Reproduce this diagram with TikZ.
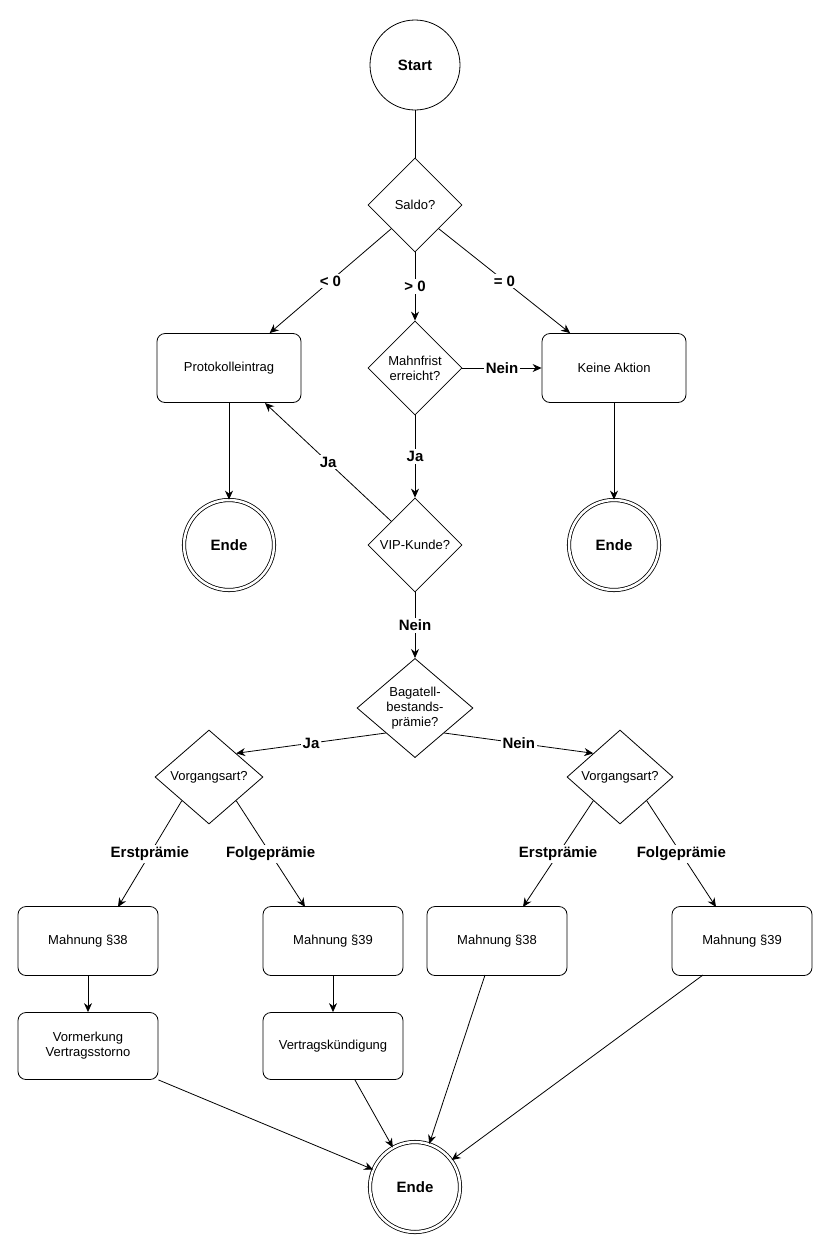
\documentclass[tikz,border=0pt]{standalone}
\usepackage{fontspec}
\setmainfont{Liberation Sans}
\usetikzlibrary{shapes.geometric,arrows.meta}
\begin{document}
\begin{tikzpicture}[x=1pt,y=-1pt,
  every node/.style={font=\fontsize{13}{15}\selectfont},
  box/.style={draw,rounded corners=8pt,minimum width=144pt,minimum height=69pt,align=center,line width=0.8pt},
  dia/.style={draw,diamond,aspect=1,inner sep=0pt,minimum width=94pt,minimum height=94pt,align=center,line width=0.8pt},
  term/.style={draw,circle,minimum size=90pt,inner sep=0pt,font=\fontsize{15}{17}\selectfont\bfseries,line width=0.8pt},
  fin/.style={term,double,double distance=2.5pt},
  arr/.style={-{Stealth[length=9pt,width=8pt]},line width=0.8pt},
  lbl/.style={fill=white,inner sep=2pt,font=\fontsize{15}{17}\selectfont\bfseries}]
\useasboundingbox (0,0) rectangle (830,1248);
\node[term] (start) at (415,65) {Start};
\node[dia] (saldo) at (415,205) {Saldo?};
\node[box] (prot) at (229,368) {Protokolleintrag};
\node[dia] (mahn) at (415,368) {Mahnfrist\\erreicht?};
\node[box] (keine) at (614,368) {Keine Aktion};
\node[fin] (endeL) at (229,545) {Ende};
\node[fin] (endeR) at (614,545) {Ende};
\node[dia] (vip) at (415,545) {VIP-Kunde?};
\node[dia,minimum width=116pt,minimum height=96pt] (bag) at (415,708) {Bagatell-\\bestands-\\prämie?};
\node[dia,minimum width=108pt] (vgL) at (209,777) {Vorgangsart?};
\node[dia,minimum width=106pt] (vgR) at (620,777) {Vorgangsart?};
\node[box,minimum width=140pt] (m38L) at (88,941) {Mahnung §38};
\node[box,minimum width=140pt] (m39L) at (333,941) {Mahnung §39};
\node[box,minimum width=140pt] (m38R) at (497,941) {Mahnung §38};
\node[box,minimum width=140pt] (m39R) at (742,941) {Mahnung §39};
\node[box,minimum width=140pt,minimum height=67pt] (vorm) at (88,1046) {Vormerkung\\Vertragsstorno};
\node[box,minimum width=140pt,minimum height=67pt] (vk) at (333,1046) {Vertragskündigung};
\node[fin] (endeB) at (415,1187) {Ende};

\draw[line width=0.8pt] (start) -- (saldo);
\draw[arr] (saldo.south west) -- node[lbl,pos=0.5] {< 0} (prot);
\draw[arr] (saldo) -- node[lbl] {> 0} (mahn);
\draw[arr] (saldo.south east) -- node[lbl,pos=0.5] {= 0} (keine);
\draw[arr] (mahn) -- node[lbl] {Nein} (keine);
\draw[arr] (mahn) -- node[lbl] {Ja} (vip);
\draw[arr] (vip.north west) -- node[lbl] {Ja} (265,403);
\draw[arr] (prot) -- (endeL);
\draw[arr] (keine) -- (endeR);
\draw[arr] (vip) -- node[lbl] {Nein} (bag);
\draw[arr] (bag.south west) -- node[lbl] {Ja} (vgL.north east);
\draw[arr] (bag.south east) -- node[lbl] {Nein} (vgR.north west);
\draw[arr] (vgL.south west) -- node[lbl] {Erstprämie} (118,907);
\draw[arr] (vgL.south east) -- node[lbl] {Folgeprämie} (305,907);
\draw[arr] (vgR.south west) -- node[lbl] {Erstprämie} (523,907);
\draw[arr] (vgR.south east) -- node[lbl] {Folgeprämie} (716,907);
\draw[arr] (m38L) -- (vorm);
\draw[arr] (m39L) -- (vk);
\draw[arr] (vorm.south east) -- (endeB);
\draw[arr] (355,1080) -- (endeB);
\draw[arr] (485,975) -- (endeB);
\draw[arr] (703,975) -- (endeB);
\end{tikzpicture}
\end{document}
